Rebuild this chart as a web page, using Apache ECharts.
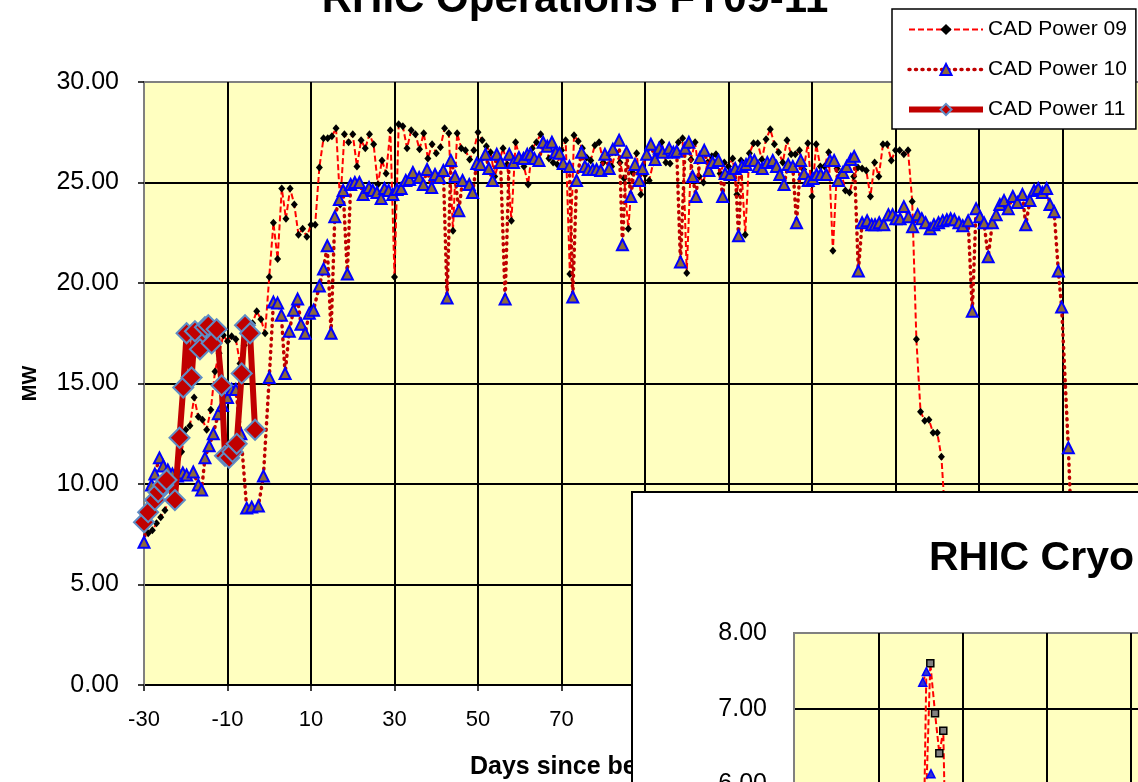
<!DOCTYPE html>
<html><head><meta charset="utf-8">
<script src="https://cdn.jsdelivr.net/npm/echarts@6/dist/echarts.min.js"></script>
<style>html,body{margin:0;padding:0;background:#fff}#c{width:1138px;height:782px}</style>
</head><body><div id="c"></div>
<script>
const FONT = '"Liberation Sans", Arial, sans-serif';

// CAD Power 09 : daily values starting at day -29
const startDay09 = -29;
const power09 = [7.55,7.7,8.05,8.35,8.7,9.2,9.9,10.7,11.6,12.7,12.9,14.3,13.35,13.2,12.7,13.7,15.6,16.5,17.4,17.1,
17.35,17.2,16.0,16.9,17.5,18.0,18.6,18.2,17.5,20.3,23.0,21.2,24.7,23.2,24.7,23.9,22.4,22.7,22.3,22.9,
22.9,25.75,27.2,27.2,27.3,27.7,23.9,27.4,27.0,27.4,25.8,27.1,26.7,27.4,26.9,24.9,26.1,25.45,27.6,20.3,
27.9,27.8,26.7,27.6,27.4,26.65,27.45,26.2,26.9,26.45,26.75,27.7,27.45,22.6,27.45,26.7,26.6,26.15,26.6,27.5,
27.1,26.8,26.5,25.3,26.0,26.7,25.9,23.1,27.0,26.25,25.8,24.9,26.7,27.0,27.4,26.9,26.2,26.0,25.9,26.6,
27.1,20.45,27.35,27.05,26.7,26.25,26.1,26.85,27.0,26.0,26.3,25.8,26.5,26.0,25.2,22.7,25.5,26.45,24.4,25.4,
25.1,26.0,26.6,27.0,26.0,25.95,26.5,27.0,27.2,20.5,26.15,27.0,25.3,25.0,26.0,26.3,26.4,25.45,26.0,25.8,
26.2,24.4,26.1,22.4,26.45,26.95,26.95,26.15,27.15,27.65,26.9,26.5,26.0,27.1,26.4,26.4,26.6,25.65,26.95,24.3,
26.9,25.8,25.8,26.5,21.6,25.7,25.5,24.6,24.5,25.3,25.75,25.7,25.6,24.3,26.0,25.3,26.9,26.9,26.1,26.6,
26.6,26.4,26.6,24.05,17.2,13.6,13.15,13.2,12.55,12.55,11.35,8.0,7.5];

// CAD Power 10
const days10 = [-30.0,-28.2,-27.4,-26.3,-25.4,-24.3,-23.2,-22.0,-20.7,-19.8,-18.2,-17.0,-16.2,-15.4,-14.4,-13.4,-12.2,-11.2,-10.0,-9.0,
-8.0,-6.8,-5.4,-4.2,-2.6,-1.4,0.0,1.0,2.0,2.9,3.8,4.8,5.8,6.8,7.6,8.6,9.6,10.6,12.0,13.0,
13.9,14.8,15.7,16.8,17.7,18.7,19.5,20.5,21.6,22.5,23.9,24.8,25.8,26.8,27.6,28.6,29.6,30.6,31.6,32.7,
33.6,34.4,35.9,36.9,37.8,38.9,39.7,40.8,41.7,42.6,43.5,44.5,45.4,46.3,47.9,48.7,49.7,50.6,51.8,52.6,
53.5,54.5,55.4,56.5,57.5,58.5,59.8,60.9,61.8,62.6,63.5,64.6,65.6,66.6,67.7,68.6,69.5,70.4,71.9,72.7,
73.6,74.8,75.6,76.4,77.5,78.4,79.4,80.4,81.4,82.3,83.8,84.6,85.6,86.6,87.6,88.6,89.4,90.4,91.4,92.4,
93.4,94.2,95.8,96.8,97.6,98.5,99.6,100.5,101.4,102.2,103.2,104.2,105.3,106.2,107.6,108.6,109.2,110.4,111.6,112.4,
113.2,114.2,115.2,116.2,117.1,118.1,119.3,120.6,121.5,122.3,123.3,124.3,125.4,126.3,127.3,128.1,129.1,130.2,131.1,132.1,
133.4,134.3,135.3,136.3,137.4,138.3,139.3,140.1,141.1,142.0,143.2,144.3,145.1,146.1,147.2,148.3,149.3,150.1,151.1,152.0,
153.1,154.1,155.3,156.3,157.2,158.3,159.2,160.3,161.3,162.3,163.2,164.1,165.2,166.1,167.4,168.4,169.3,170.2,171.2,172.2,
173.2,174.1,175.0,176.0,177.0,178.1,179.2,180.4,181.2,182.2,183.2,184.2,185.2,186.2,187.0,188.0,189.0,189.8,191.4,192.0];
const power10 = [7.1,9.95,10.5,11.3,10.9,10.7,10.5,10.4,10.55,10.45,10.6,9.95,9.7,11.3,11.9,12.5,13.5,13.9,14.3,14.7,
14.7,12.5,8.8,8.85,8.9,10.4,15.3,19.05,19.0,18.4,15.5,17.6,18.65,19.2,17.95,17.5,18.5,18.65,19.85,20.7,
21.85,17.5,23.3,24.15,24.6,20.45,24.9,25.0,25.0,24.4,24.75,24.6,24.5,24.2,24.7,24.6,24.4,24.65,24.7,25.1,
25.15,25.5,25.25,24.9,25.65,24.75,25.4,25.25,25.6,19.25,26.1,25.3,23.6,25.1,24.9,24.5,25.95,25.9,26.4,25.7,
25.1,26.4,26.0,19.2,26.4,26.0,26.25,26.2,26.4,26.4,26.2,26.1,27.0,26.8,27.0,26.5,26.45,25.95,25.8,19.3,
25.1,26.5,25.8,25.65,25.65,25.65,25.6,26.4,25.7,26.65,27.1,21.9,26.5,24.3,25.9,25.1,25.7,26.4,26.9,26.15,
26.7,26.5,26.7,26.5,26.55,21.05,26.7,27.0,25.3,24.3,26.25,26.6,25.6,26.0,26.1,24.3,25.45,25.4,25.7,22.35,
25.8,25.9,26.1,26.1,25.8,25.7,26.0,26.1,25.8,25.4,24.9,25.9,25.8,23.0,26.1,25.45,25.1,25.2,25.4,25.4,
25.4,26.1,26.1,25.1,25.5,25.8,26.15,26.3,20.6,23.0,23.1,22.9,22.9,23.0,22.9,23.4,23.4,23.2,23.2,23.8,
23.3,22.8,23.4,23.2,23.0,22.7,22.9,23.0,23.1,23.15,23.2,23.15,23.0,22.85,23.1,18.6,23.7,23.3,23.0,21.3,
23.0,23.4,23.9,24.1,23.7,24.3,24.0,24.4,22.9,24.1,24.6,24.7,24.5,24.7,23.9,23.55,20.6,18.8,11.8,8.5];

// CAD Power 11
const days11 = [-30.0,-29.0,-27.4,-26.6,-25.4,-24.6,-22.6,-21.5,-20.6,-19.8,-18.6,-17.8,-16.6,-15.4,-14.6,-13.8,-12.6,-11.4,-10.6,-9.6,-8.8,-7.8,-6.6,-5.8,-4.6,-3.4];
const power11 = [8.1,8.6,9.2,9.6,9.95,10.2,9.2,12.3,14.8,17.5,15.3,17.6,16.7,17.8,17.9,17.0,17.7,14.9,11.4,11.3,11.6,12.0,15.5,17.9,17.5,12.7];

// Inset (RHIC Cryo) visible points
const cryoSqX = [1.545,1.617,1.673,1.724,1.771,1.80];
const cryoSqY = [5.0,7.60,6.94,6.41,6.71,5.0];
const cryoTriX = [1.527,1.57,1.535,1.60,1.625];
const cryoTriY = [7.35,7.49,5.0,'-',6.14];

const seriesNames = ['CAD Power 09','CAD Power 10','CAD Power 11'];
const mainTitle = 'RHIC Operations FY09-11';
const insetTitle = 'RHIC Cryo Power';
const xName = 'Days since beginning of run';
const yName = 'MW';

const data09 = power09.map((v,i)=>[startDay09+i, v]);
const data10 = days10.map((d,i)=>[d, power10[i]]);
const data11 = days11.map((d,i)=>[d, power11[i]]);
const dataSq = cryoSqX.map((d,i)=>[d, cryoSqY[i]]);
const dataTri = cryoTriX.map((d,i)=>[d, cryoTriY[i]]);

const style09 = {line:{color:'#FF0000', width:2, type:[6,3]}, item:{color:'#000'}};
const style10 = {line:{color:'#C00000', width:3.5, type:[1,5.5], cap:'round'}, item:{color:'#8C6A3C', borderColor:'#0000FF', borderWidth:2}};
const style11 = {line:{color:'#C00000', width:6}, item:{color:'#C00000', borderColor:'#5F8DC6', borderWidth:2}};

const chart = echarts.init(document.getElementById('c'), null, {renderer:'canvas'});
const fmt2 = v => v.toFixed(2);
chart.setOption({
  animation:false,
  backgroundColor:'#fff',
  textStyle:{fontFamily:FONT},
  title:[
    {text:mainTitle, left:575, textAlign:'center', top:-21, padding:0, textStyle:{fontSize:42, fontWeight:'bold', color:'#000', fontFamily:FONT}},
    {text:insetTitle, left:929, top:538, padding:0, z:20, textStyle:{fontSize:41, fontWeight:'bold', color:'#000', fontFamily:FONT}}
  ],
  legend:{
    data:[
      {name:seriesNames[0], lineStyle:style09.line, itemStyle:style09.item},
      {name:seriesNames[1], lineStyle:style10.line, itemStyle:style10.item},
      {name:seriesNames[2], lineStyle:style11.line, itemStyle:style11.item}
    ],
    orient:'vertical', left:892, top:9, z:20,
    backgroundColor:'#fff', borderColor:'#000', borderWidth:1.5,
    padding:[10,9,9,14], itemWidth:74, itemHeight:14, itemGap:19, selectedMode:false,
    textStyle:{fontSize:21, color:'#000', fontFamily:FONT}
  },
  grid:[
    {left:144, top:82, width:1085.5, height:603, outerBoundsMode:'none', containLabel:false, show:true, backgroundColor:'#FFFFC0', borderColor:'#808080', borderWidth:2},
    {left:794, top:633, width:505.8, height:302.8, outerBoundsMode:'none', containLabel:false, show:true, backgroundColor:'#FFFFC0', borderColor:'#808080', borderWidth:2, z:11}
  ],
  xAxis:[
    {type:'value', gridIndex:0, min:-30, max:230, interval:20,
     axisLine:{show:true, onZero:false, lineStyle:{color:'#000', width:2}},
     axisTick:{show:true, length:6, lineStyle:{color:'#000', width:1.5}},
     axisLabel:{fontSize:22, color:'#000', fontFamily:FONT, margin:24},
     splitLine:{show:true, showMinLine:false, lineStyle:{color:'#000', width:2}}},
    {type:'value', gridIndex:1, min:0, max:6, interval:1, z:12,
     axisLine:{show:true, onZero:false, lineStyle:{color:'#000', width:2}},
     axisTick:{show:false}, axisLabel:{show:false},
     splitLine:{show:true, showMinLine:false, lineStyle:{color:'#000', width:2}}}
  ],
  yAxis:[
    {type:'value', gridIndex:0, min:0, max:30, interval:5, z:1,
     name:yName, nameLocation:'middle', nameGap:104,
     nameTextStyle:{fontSize:20, fontWeight:'bold', color:'#000', fontFamily:FONT},
     axisLine:{show:true, onZero:false, lineStyle:{color:'#808080', width:2}},
     axisTick:{show:true, length:6, lineStyle:{color:'#000', width:1.5}},
     axisLabel:{formatter:fmt2, fontSize:25, color:'#000', fontFamily:FONT, margin:25},
     splitLine:{show:true, showMaxLine:false, lineStyle:{color:'#000', width:2}}},
    {type:'value', gridIndex:1, min:4, max:8, interval:1, z:12,
     axisLine:{show:true, onZero:false, lineStyle:{color:'#808080', width:2}},
     axisTick:{show:false},
     axisLabel:{formatter:fmt2, fontSize:25, color:'#000', fontFamily:FONT, margin:27},
     splitLine:{show:true, showMaxLine:false, lineStyle:{color:'#000', width:2}}}
  ],
  graphic:[
    {type:'text', left:470, top:755, z:5, style:{text:xName, font:'bold 25px '+FONT, fill:'#000'}},
    {type:'rect', z:10, shape:{x:632, y:492, width:520, height:300}, style:{fill:'#fff', stroke:'#000', lineWidth:2}}
  ],
  series:[
    {name:seriesNames[0], type:'line', xAxisIndex:0, yAxisIndex:0, data:data09, z:2,
     symbol:'diamond', symbolSize:[7,8], itemStyle:style09.item, lineStyle:style09.line, emphasis:{disabled:true}},
    {name:seriesNames[1], type:'line', xAxisIndex:0, yAxisIndex:0, data:data10, z:3,
     symbol:'triangle', symbolSize:11, itemStyle:style10.item, lineStyle:style10.line, emphasis:{disabled:true}},
    {name:seriesNames[2], type:'line', xAxisIndex:0, yAxisIndex:0, data:data11, z:4,
     symbol:'diamond', symbolSize:20, itemStyle:style11.item, lineStyle:style11.line, emphasis:{disabled:true}},
    {name:'Cryo 09', type:'line', xAxisIndex:1, yAxisIndex:1, data:dataSq, z:13,
     symbol:'rect', symbolSize:7, itemStyle:{color:'#808080', borderColor:'#000', borderWidth:1.5},
     lineStyle:{color:'#FF0000', width:2, type:[6,3]}, emphasis:{disabled:true}},
    {name:'Cryo 10', type:'line', xAxisIndex:1, yAxisIndex:1, data:dataTri, z:13, connectNulls:false,
     symbol:'triangle', symbolSize:8, itemStyle:{color:'#3333CC', borderColor:'#0000FF', borderWidth:1.5},
     lineStyle:{color:'#FF0000', width:2, type:[6,3]}, emphasis:{disabled:true}}
  ]
});
</script></body></html>
